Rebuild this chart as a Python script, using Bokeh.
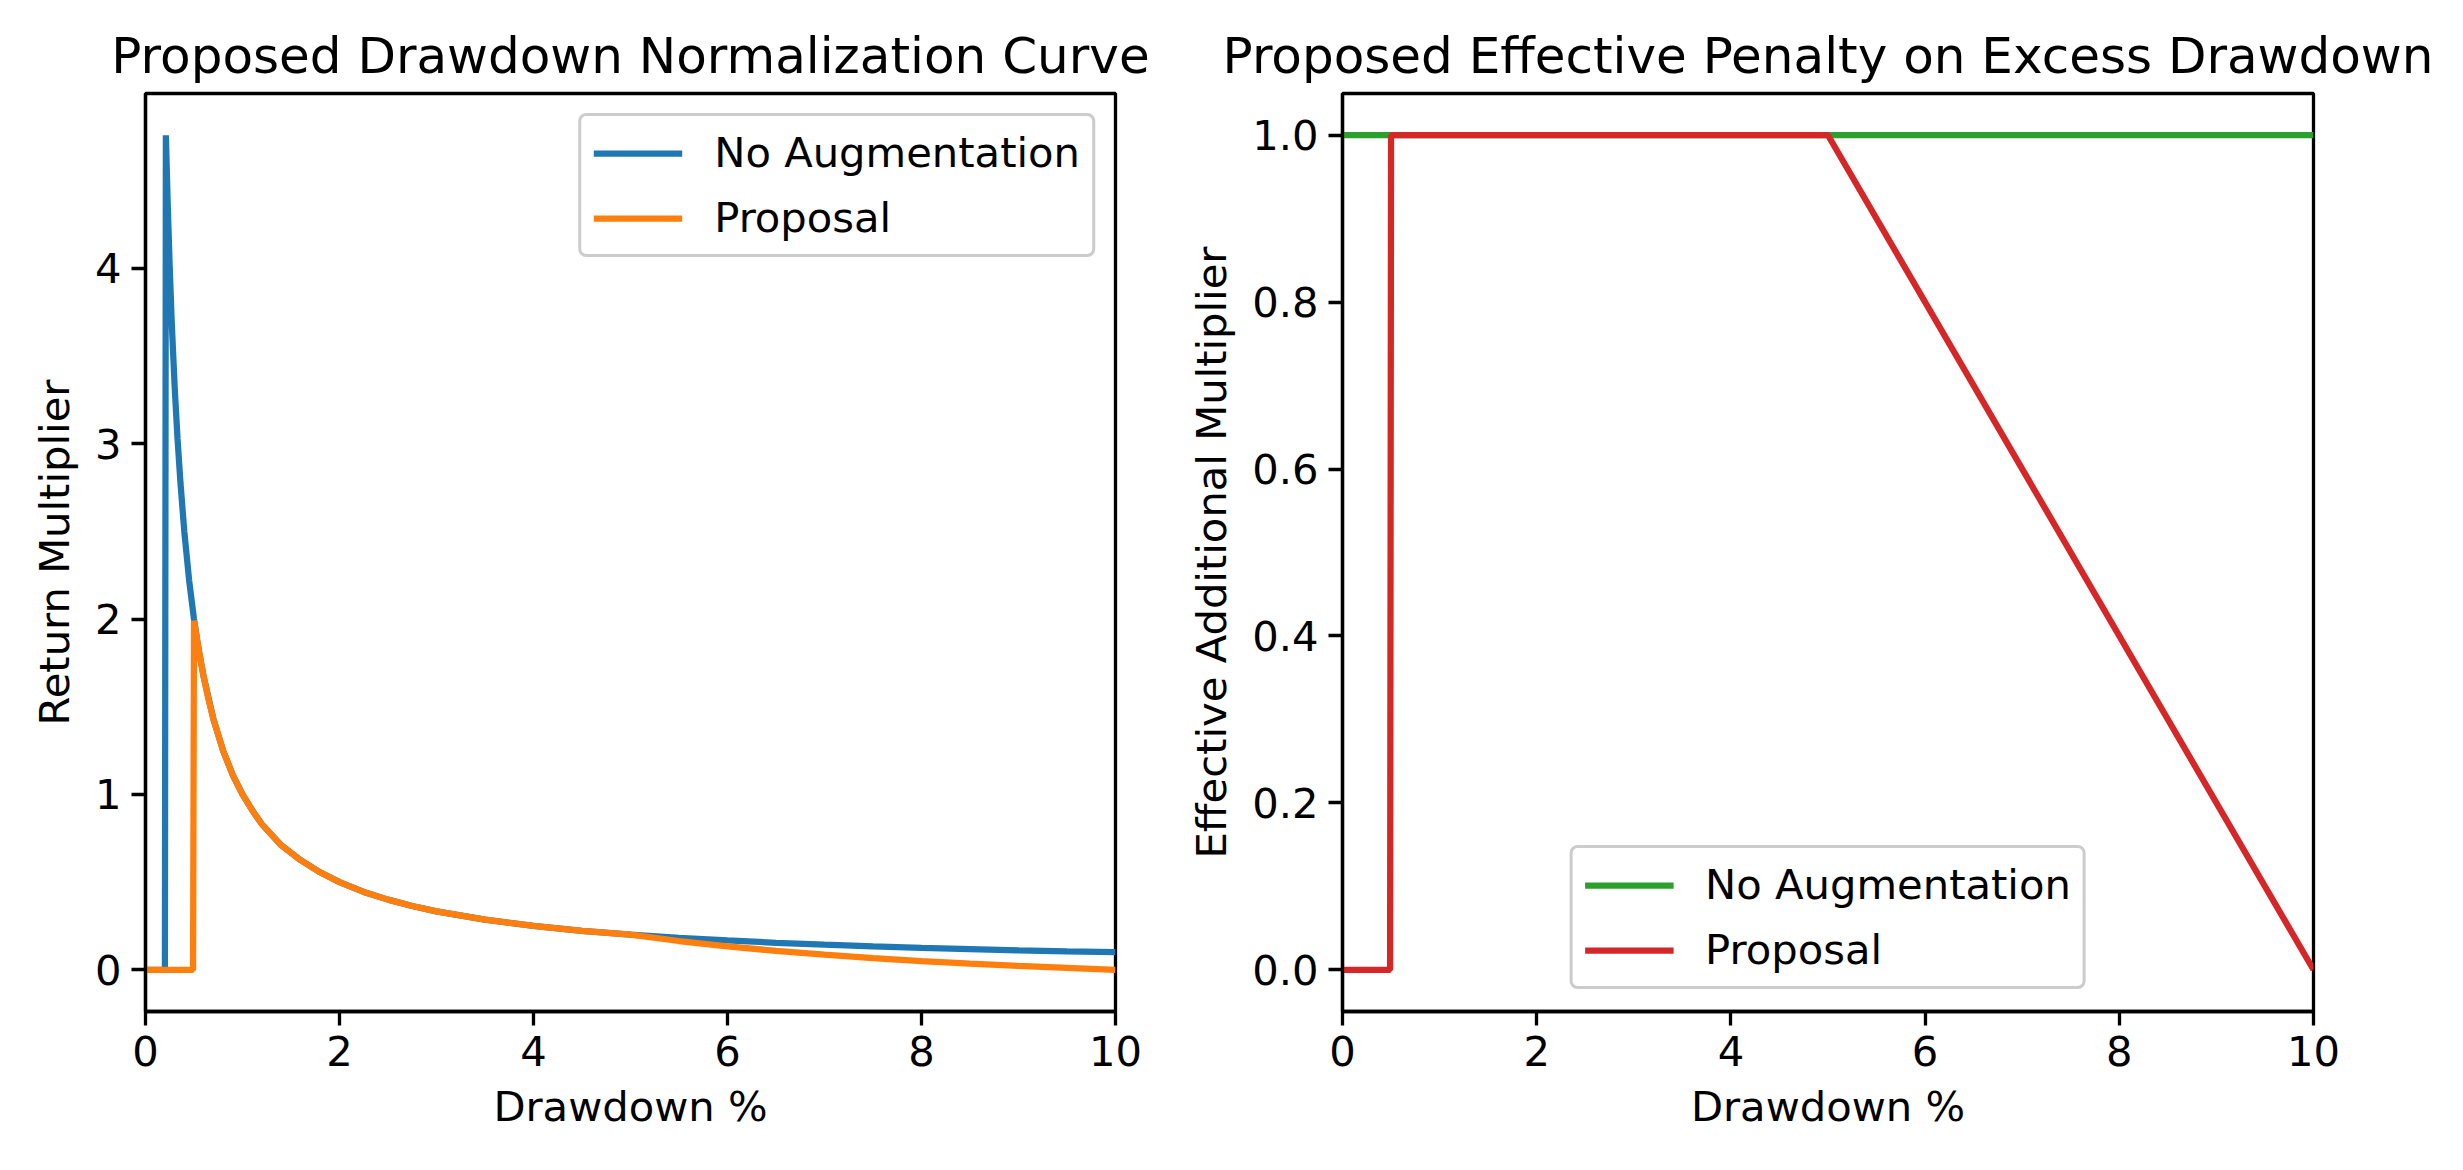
from bokeh.plotting import figure
from bokeh.layouts import row
from bokeh.models import FixedTicker, PrintfTickFormatter, Range1d
from bokeh.embed import file_html
from bokeh.resources import INLINE

# ---------------- data ----------------
# Left panel: Return multiplier vs drawdown %
noaug_x = [0.0, 0.2, 0.21, 0.22, 0.23, 0.25, 0.27, 0.3, 0.33, 0.36, 0.4, 0.45, 0.5,
           0.55, 0.6, 0.7, 0.8, 0.9, 1.0, 1.1, 1.2, 1.4, 1.6, 1.8, 2.0, 2.25, 2.5,
           2.75, 3.0, 3.5, 4.0, 4.5, 5.0, 5.5, 6.0, 6.5, 7.0, 7.5, 8.0, 8.5, 9.0,
           9.5, 10.0]
noaug_y = [0.0, 0.0, 4.76, 4.55, 4.35, 4.0, 3.70, 3.33, 3.03, 2.78, 2.5, 2.22, 2.0,
           1.82, 1.67, 1.43, 1.25, 1.11, 1.0, 0.91, 0.83, 0.71, 0.625, 0.556, 0.5,
           0.444, 0.4, 0.364, 0.333, 0.286, 0.25, 0.222, 0.2, 0.182, 0.167, 0.154,
           0.143, 0.133, 0.125, 0.118, 0.111, 0.105, 0.1]

prop_x = [0.0, 0.49, 0.5, 0.55, 0.6, 0.65, 0.7, 0.8, 0.9, 1.0, 1.1, 1.2, 1.4, 1.6,
          1.8, 2.0, 2.25, 2.5, 2.75, 3.0, 3.5, 4.0, 4.5, 5.0, 5.5, 6.0, 6.5, 7.0,
          7.5, 8.0, 8.5, 9.0, 9.5, 10.0]
prop_y = [0.0, 0.0, 1.99, 1.82, 1.67, 1.54, 1.43, 1.25, 1.11, 1.0, 0.91, 0.83, 0.71,
          0.625, 0.556, 0.5, 0.444, 0.4, 0.364, 0.333, 0.286, 0.25, 0.222, 0.2,
          0.164, 0.133, 0.108, 0.086, 0.067, 0.05, 0.035, 0.022, 0.011, 0.0]

# Right panel: effective additional multiplier
pen_noaug_x = [0.0, 10.0]
pen_noaug_y = [1.0, 1.0]
pen_prop_x = [0.0, 0.49, 0.5, 5.0, 10.0]
pen_prop_y = [0.0, 0.0, 1.0, 1.0, 0.0]

left_xticks = [0, 2, 4, 6, 8, 10]
left_yticks = [0, 1, 2, 3, 4]
right_xticks = [0, 2, 4, 6, 8, 10]
right_yticks = [0.0, 0.2, 0.4, 0.6, 0.8, 1.0]

titles = ["Proposed Drawdown Normalization Curve",
          "Proposed Effective Penalty on Excess Drawdown"]
xlabel = "Drawdown %"
ylabels = ["Return Multiplier", "Effective Additional Multiplier"]
series_labels = ["No Augmentation", "Proposal"]

# ---------------- styling ----------------
FONT = "DejaVu Sans"
TICK_FS = "41.7px"
TITLE_FS = "50px"
LW = 6.25
SPINE = 3.3
C_BLUE, C_ORANGE, C_GREEN, C_RED = "#1f77b4", "#ff7f0e", "#2ca02c", "#d62728"

FIG_H = 1170
TOP, BOTTOM = 93, 159


def style(p, title, ylabel, xticks, yticks):
    p.title.text = title
    p.title.text_font = FONT
    p.title.text_font_size = TITLE_FS
    p.title.text_font_style = "normal"
    p.title.align = "center"
    p.title.text_color = "black"
    p.title.standoff = 17
    p.outline_line_color = "black"
    p.outline_line_width = SPINE
    p.outline_line_alpha = 1.0
    p.xgrid.visible = False
    p.ygrid.visible = False
    p.background_fill_color = "white"
    p.border_fill_color = "white"
    p.xaxis.axis_label = xlabel
    p.yaxis.axis_label = ylabel
    p.xaxis.ticker = FixedTicker(ticks=xticks)
    p.yaxis.ticker = FixedTicker(ticks=yticks)
    for ax in (p.xaxis, p.yaxis):
        ax.axis_label_text_font = FONT
        ax.axis_label_text_font_size = TICK_FS
        ax.axis_label_text_font_style = "normal"
        ax.axis_label_text_color = "black"
        ax.axis_label_standoff = 13
        ax.major_label_text_font = FONT
        ax.major_label_text_font_size = TICK_FS
        ax.major_label_text_color = "black"
        ax.major_label_standoff = 10
        ax.axis_line_color = "black"
        ax.axis_line_width = SPINE
        ax.major_tick_line_color = "black"
        ax.major_tick_line_width = SPINE
        ax.major_tick_out = 14
        ax.major_tick_in = 0
        ax.minor_tick_line_color = None


def style_legend(p, location, margin):
    lg = p.legend[0]
    lg.location = location
    lg.margin = margin
    lg.label_text_font = FONT
    lg.label_text_font_size = TICK_FS
    lg.label_text_color = "black"
    lg.glyph_width = 89
    lg.glyph_height = 48
    lg.label_height = 48
    lg.label_standoff = 32
    lg.spacing = 16
    lg.padding = 12
    lg.border_line_color = "#cccccc"
    lg.border_line_width = SPINE
    lg.border_line_alpha = 1.0
    lg.background_fill_alpha = 0.8
    if "border_radius" in lg.properties():
        lg.border_radius = 8


# ---------------- left figure ----------------
p1 = figure(width=1175, height=FIG_H, output_backend="svg", toolbar_location=None,
            x_range=Range1d(0, 10), y_range=Range1d(-0.238, 4.998),
            min_border_left=145, min_border_right=60,
            min_border_top=TOP, min_border_bottom=BOTTOM)
p1.line(noaug_x, noaug_y, line_color=C_BLUE, line_width=LW, legend_label=series_labels[0])
p1.line(prop_x, prop_y, line_color=C_ORANGE, line_width=LW, legend_label=series_labels[1])
style(p1, titles[0], ylabels[0], left_xticks, left_yticks)
style_legend(p1, "top_right", 20)

# ---------------- right figure ----------------
p2 = figure(width=1288, height=FIG_H, output_backend="svg", toolbar_location=None,
            x_range=Range1d(0, 10), y_range=Range1d(-0.05, 1.05),
            min_border_left=167, min_border_right=150,
            min_border_top=TOP, min_border_bottom=BOTTOM)
p2.line(pen_noaug_x, pen_noaug_y, line_color=C_GREEN, line_width=LW, legend_label=series_labels[0])
p2.line(pen_prop_x, pen_prop_y, line_color=C_RED, line_width=LW, legend_label=series_labels[1])
style(p2, titles[1], ylabels[1], right_xticks, right_yticks)
p2.yaxis.formatter = PrintfTickFormatter(format="%.1f")
style_legend(p2, "bottom_center", 22)

layout = row(p1, p2)
open("out.html", "w").write(file_html(layout, INLINE))
